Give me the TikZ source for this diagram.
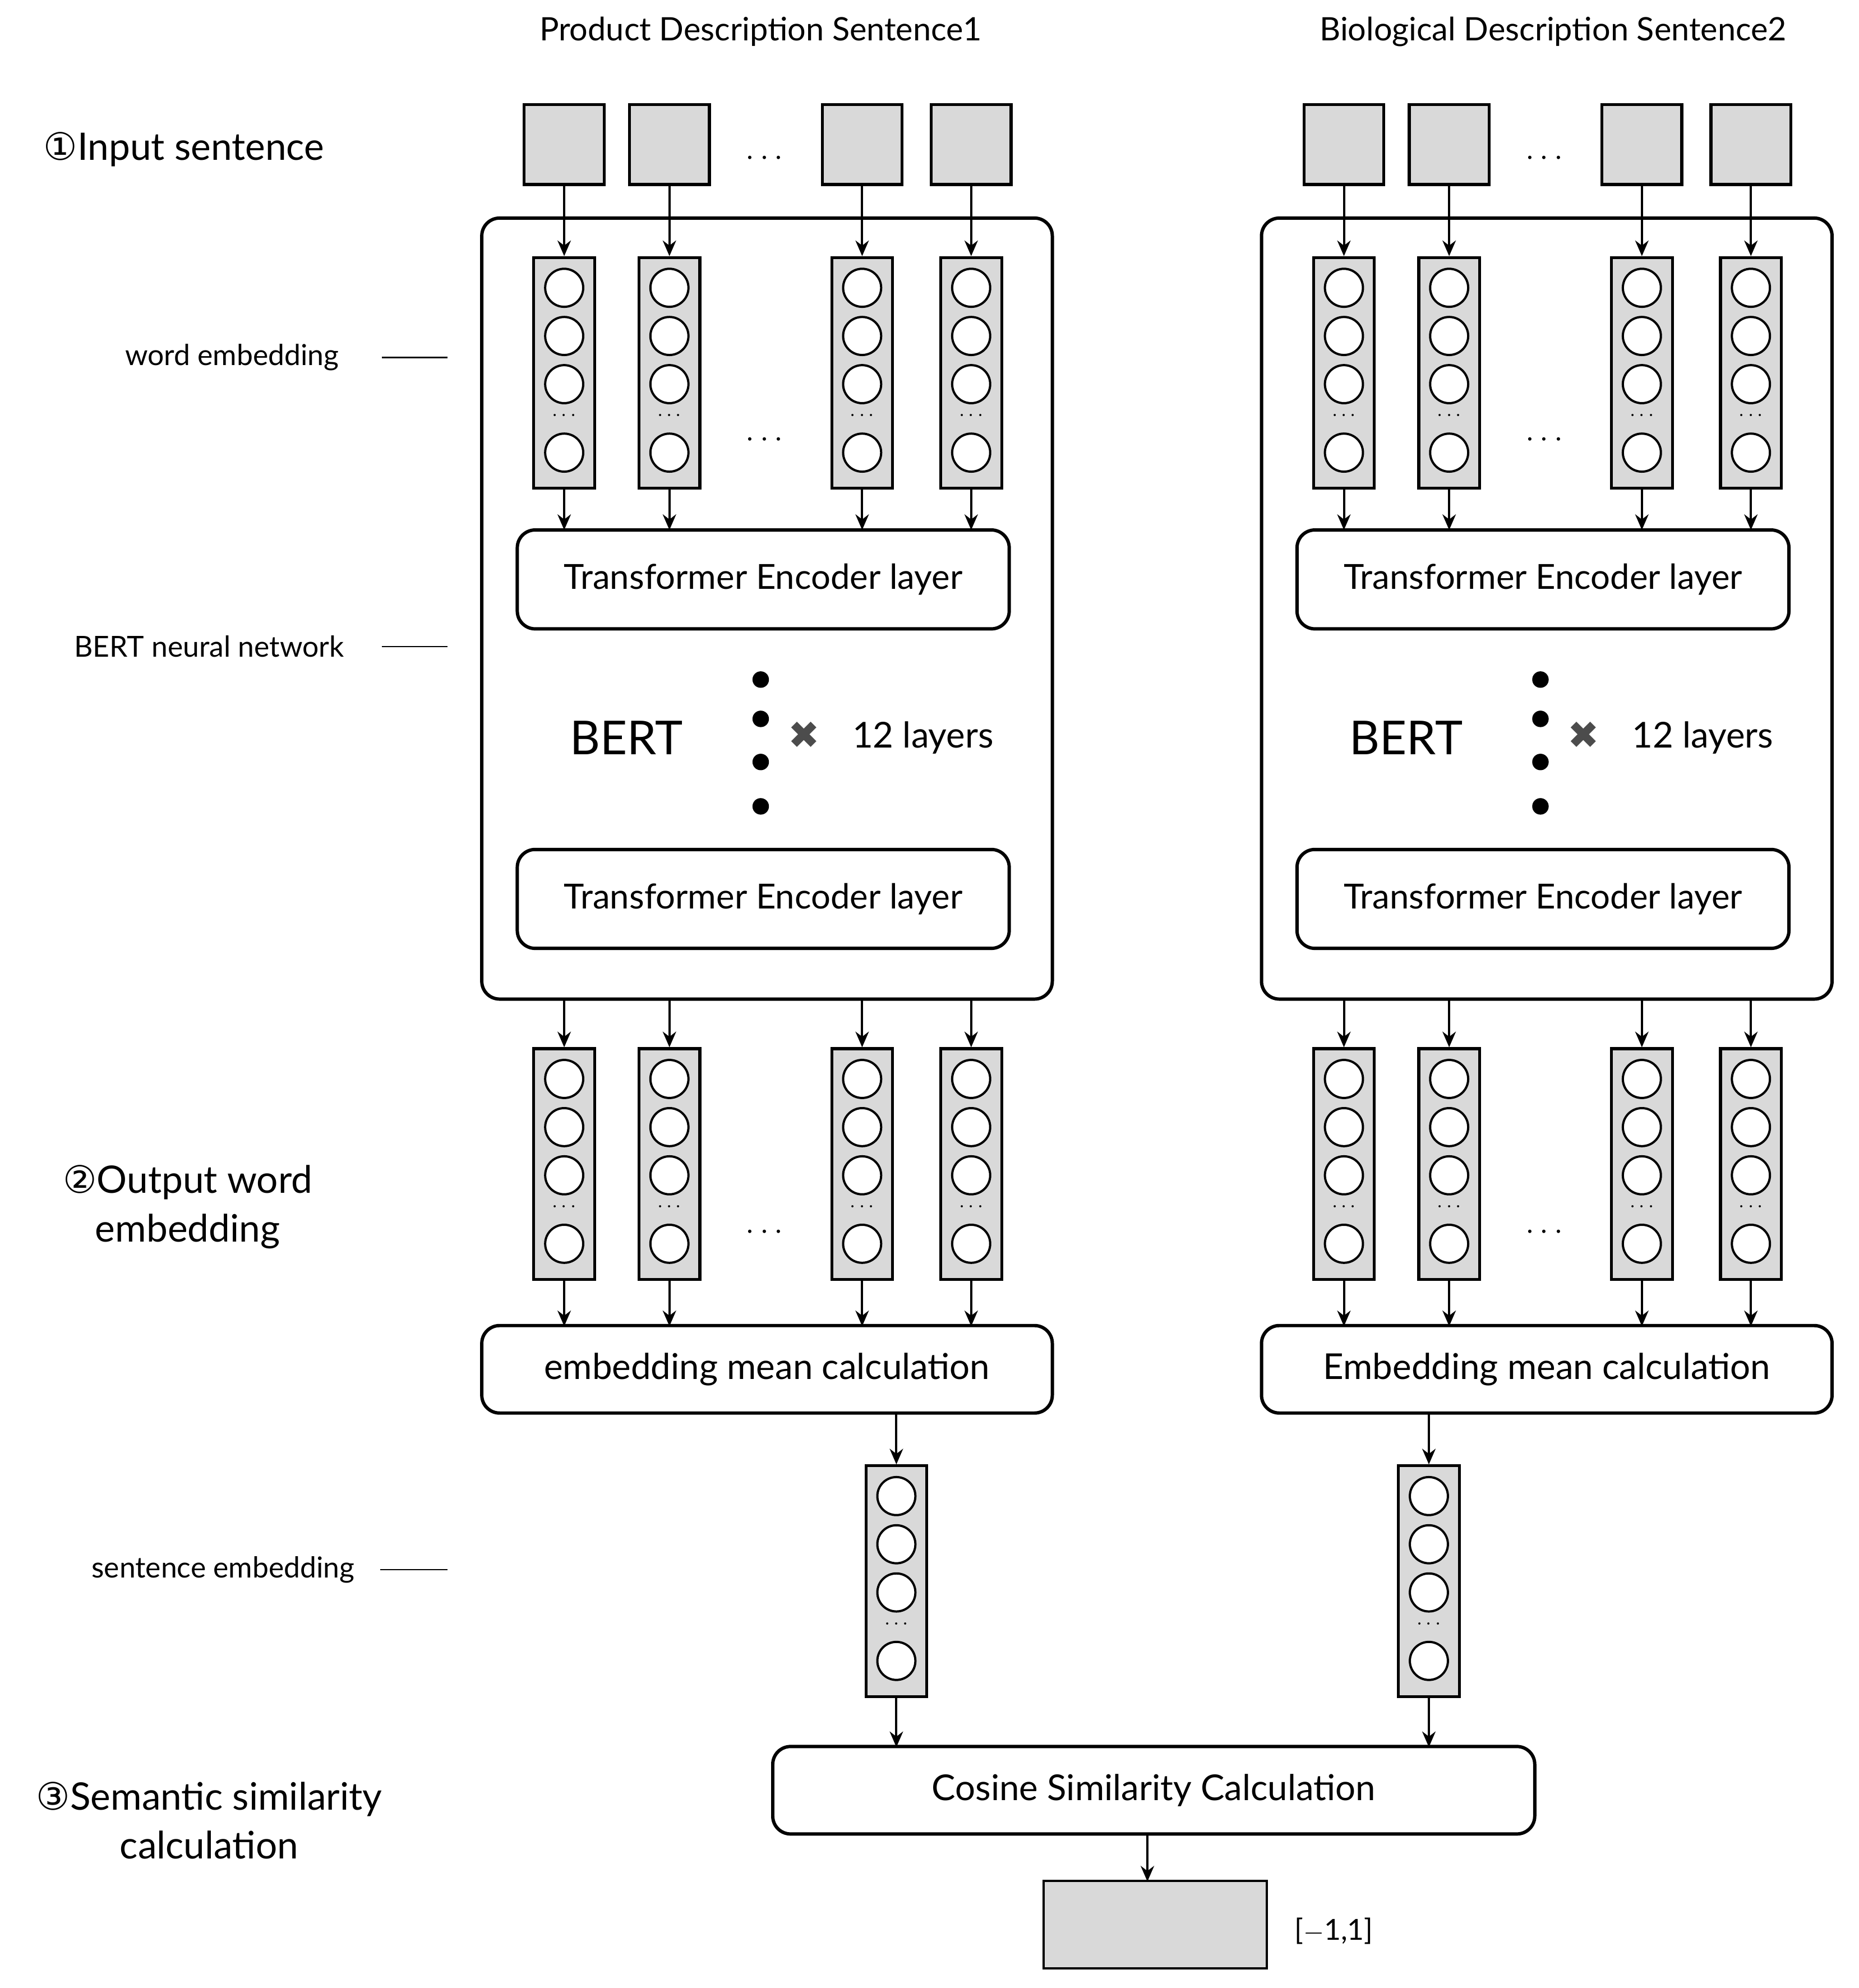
\documentclass[tikz,border=0pt]{standalone}
\usepackage{fontspec}
\setmainfont{Lato}
\newfontfamily\dejavu{DejaVu Sans}
\usetikzlibrary{arrows.meta}
\begin{document}
\begin{tikzpicture}[x=0.02cm,y=-0.02cm,
  box/.style={draw,line width=1.3pt,fill=black!15},
  rbox/.style={draw,line width=1.5pt,rounded corners=8pt,fill=white},
  arr/.style={line width=1pt,-{Stealth[length=7pt,width=6pt]}},
  circ/.style={draw,line width=1pt,fill=white,circle,minimum size=30*0.02cm,inner sep=0pt},
  lab/.style={font=\fontsize{13}{15}\selectfont},
  big/.style={font=\fontsize{17}{22}\selectfont,align=center},
  enc/.style={font=\fontsize{15.5}{18}\selectfont}]
\path[use as bounding box] (0,0) rectangle (1466,1568);
% column macro: #1 name, #2 x, #3 top
\newcommand\embcol[3]{%
  \node[box,minimum width=48*0.02cm,minimum height=182*0.02cm,inner sep=0pt,anchor=north] (#1) at (#2,#3) {};
  \foreach \dy in {25,63,101,155} \node[circ] at (#2,#3+\dy) {};
  \node[font=\small] at (#2,#3+126) {$\cdots$};}
% titles
\node[font=\fontsize{14.5}{17}\selectfont] (t1) at (600,25) {Product Description Sentence1};
\node[font=\fontsize{14.5}{17}\selectfont] (t2) at (1225,25) {Biological Description Sentence2};
% left labels
\node[big] (l1) at (145,118) {{\dejavu ①}Input sentence};
\node[lab] (l2) at (183,282) {word embedding};
\coordinate (l2a) at (301,282); \coordinate (l2b) at (353,282);
\draw[line width=0.6pt] (l2a) -- (l2b);
\node[lab] (l3) at (165,510) {BERT neural network};
\coordinate (l3a) at (301,510); \coordinate (l3b) at (353,510);
\draw[line width=0.6pt] (l3a) -- (l3b);
\node[big] (l4) at (148,952) {{\dejavu ②}Output word\\embedding};
\node[lab] (l5) at (176,1238) {sentence embedding};
\coordinate (l5a) at (300,1238); \coordinate (l5b) at (353,1238);
\draw[line width=0.6pt] (l5a) -- (l5b);
\node[big] (l6) at (165,1436) {{\dejavu ③}Semantic similarity\\calculation};
% two branches
\foreach \s/\o/\mt in {L/0/embedding mean calculation,R/615/Embedding mean calculation}{
  \begin{scope}[xshift=\o*0.02cm]
  \draw[rbox] (380,172) rectangle (830,788);
  \node[rbox,minimum width=388*0.02cm,minimum height=78*0.02cm,enc] (e1\s) at (602,457) {Transformer Encoder layer};
  \node[rbox,minimum width=388*0.02cm,minimum height=78*0.02cm,enc] (e2\s) at (602,709) {Transformer Encoder layer};
  \node[font=\fontsize{21}{24}\selectfont] (bert\s) at (494,582) {BERT};
  \foreach \yy in {536,567,601,636} \fill (600,\yy) circle (6.5);
  \node[font=\dejavu\fontsize{17}{20}\selectfont,text=black!70] (x\s) at (634,580) {✖};
  \node[font=\fontsize{16}{19}\selectfont] (n\s) at (728,582) {12 layers};
  \node[rbox,minimum width=450*0.02cm,minimum height=69*0.02cm,font=\fontsize{16}{19}\selectfont] (m\s) at (605,1080) {\mt};
  \node[font=\Large] at (603,125) {$\cdots$};
  \node[font=\Large] at (603,347) {$\cdots$};
  \node[font=\Large] at (603,972) {$\cdots$};
  \foreach \i/\xx in {1/445,2/528,3/680,4/766}{
    \node[box,minimum size=63*0.02cm,inner sep=0pt] (in\s\i) at (\xx,114) {};
    \embcol{w\s\i}{\xx}{202}
    \embcol{o\s\i}{\xx}{826}
    \draw[arr] (in\s\i) -- (w\s\i);
    \draw[arr] (w\s\i.south) -- (\xx,418);
    \draw[arr] (\xx,788) -- (o\s\i.north);
    \draw[arr] (o\s\i.south) -- (\xx,1046);
  }
  \end{scope}}
\embcol{sL}{707}{1155}
\embcol{sR}{1127}{1155}
\draw[arr] (707,1115) -- (sL.north);
\draw[arr] (1127,1115) -- (sR.north);
\node[rbox,minimum width=601*0.02cm,minimum height=69*0.02cm,font=\fontsize{16}{19}\selectfont] (cos) at (910,1412) {Cosine Similarity Calculation};
\draw[arr] (sL.south) -- (707,1378);
\draw[arr] (sR.south) -- (1127,1378);
\node[box,line width=1pt,minimum width=176*0.02cm,minimum height=69*0.02cm] (res) at (911,1518) {};
\draw[arr] (905,1447) -- (905,1484);
\node[lab] (rl) at (1052,1523) {[$-$1,1]};
\end{tikzpicture}
\end{document}
